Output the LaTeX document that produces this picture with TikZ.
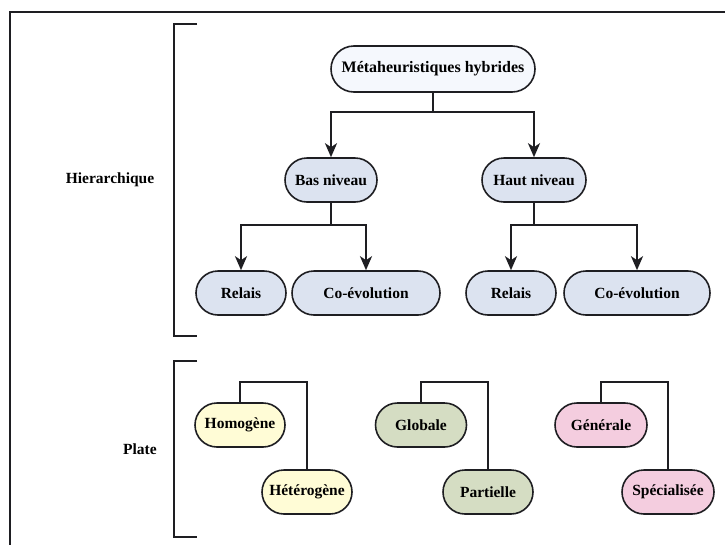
\documentclass[tikz,border=0pt]{standalone}
\usepackage{fontspec}
\setmainfont{Liberation Serif}
\usetikzlibrary{shapes.misc,arrows.meta}

\definecolor{edge}{HTML}{1E1E22}
\definecolor{rootfill}{HTML}{F5F8FD}
\definecolor{bluefill}{HTML}{DCE3F0}
\definecolor{yellowfill}{HTML}{FFFCD6}
\definecolor{greenfill}{HTML}{D5DDC3}
\definecolor{pinkfill}{HTML}{F4CDDF}

\tikzset{
  pill/.style={rounded rectangle, draw=edge, line width=1.6pt,
    minimum height=44pt, inner sep=0pt, text=black,
    font=\fontsize{15.5}{18}\selectfont\bfseries},
  link/.style={draw=edge, line width=2.3pt},
  arrowlink/.style={link, -{Stealth[length=14pt,width=12pt,inset=4pt]}},
  plainlink/.style={draw=edge, line width=2pt},
  bracketline/.style={draw=edge, line width=2.2pt},
  sidelabel/.style={font=\fontsize{15.5}{18}\selectfont\bfseries, text=black}
}

\begin{document}
\begin{tikzpicture}[x=1pt,y=-1pt]
  \useasboundingbox (0,0) rectangle (725,544);
  \clip (0,0) rectangle (725,544);

  % outer frame (runs past the right and bottom edges)
  \draw[draw=edge, line width=2.8pt] (10,740) -- (10,12) -- (760,12);

  % grouping brackets
  \draw[bracketline] (197,24) -- (174,24) -- (174,336) -- (197,336);
  \draw[bracketline] (197,361) -- (174,361) -- (174,537) -- (197,537);
  \node[sidelabel] (lblh) at (110,180) {Hierarchique};
  \node[sidelabel] (lblp) at (140,449) {Plate};

  % hierarchical classification
  \node[pill, fill=rootfill, minimum width=204pt, minimum height=46pt,
        font=\fontsize{16}{19}\selectfont\bfseries] (root) at (433,69) {Métaheuristiques hybrides};
  \node[pill, fill=bluefill, minimum width=92pt] (bas) at (331,180) {Bas niveau};
  \node[pill, fill=bluefill, minimum width=104pt] (haut) at (534,180) {Haut niveau};
  \node[pill, fill=bluefill, minimum width=90pt] (rel1) at (241,293) {Relais};
  \node[pill, fill=bluefill, minimum width=148pt] (coe1) at (366,293) {Co-évolution};
  \node[pill, fill=bluefill, minimum width=90pt] (rel2) at (511,293) {Relais};
  \node[pill, fill=bluefill, minimum width=146pt] (coe2) at (637,293) {Co-évolution};

  \coordinate (jr) at (433,112);
  \coordinate (jb) at (331,225);
  \coordinate (jh) at (534,225);

  \draw[link] (root.south) -- (jr);
  \draw[arrowlink] (jr) -| (bas.north);
  \draw[arrowlink] (jr) -| (haut.north);

  \draw[link] (bas.south) -- (jb);
  \draw[arrowlink] (jb) -| (rel1.north);
  \draw[arrowlink] (jb) -| (coe1.north);

  \draw[link] (haut.south) -- (jh);
  \draw[arrowlink] (jh) -| (rel2.north);
  \draw[arrowlink] (jh) -| (coe2.north);

  % flat classification
  \node[pill, fill=yellowfill, minimum width=90pt] (hom) at (240,425) {Homogène};
  \node[pill, fill=yellowfill, minimum width=90pt] (het) at (307,492) {Hétérogène};
  \node[pill, fill=greenfill, minimum width=91pt] (glo) at (421,425) {Globale};
  \node[pill, fill=greenfill, minimum width=90pt] (par) at (488,492) {Partielle};
  \node[pill, fill=pinkfill, minimum width=92pt] (gen) at (601,425) {Générale};
  \node[pill, fill=pinkfill, minimum width=92pt] (spe) at (668,492) {Spécialisée};

  \draw[plainlink] (hom.north) |- (273,382) -| (het.north);
  \draw[plainlink] (glo.north) |- (455,382) -| (par.north);
  \draw[plainlink] (gen.north) |- (635,382) -| (spe.north);
\end{tikzpicture}
\end{document}
